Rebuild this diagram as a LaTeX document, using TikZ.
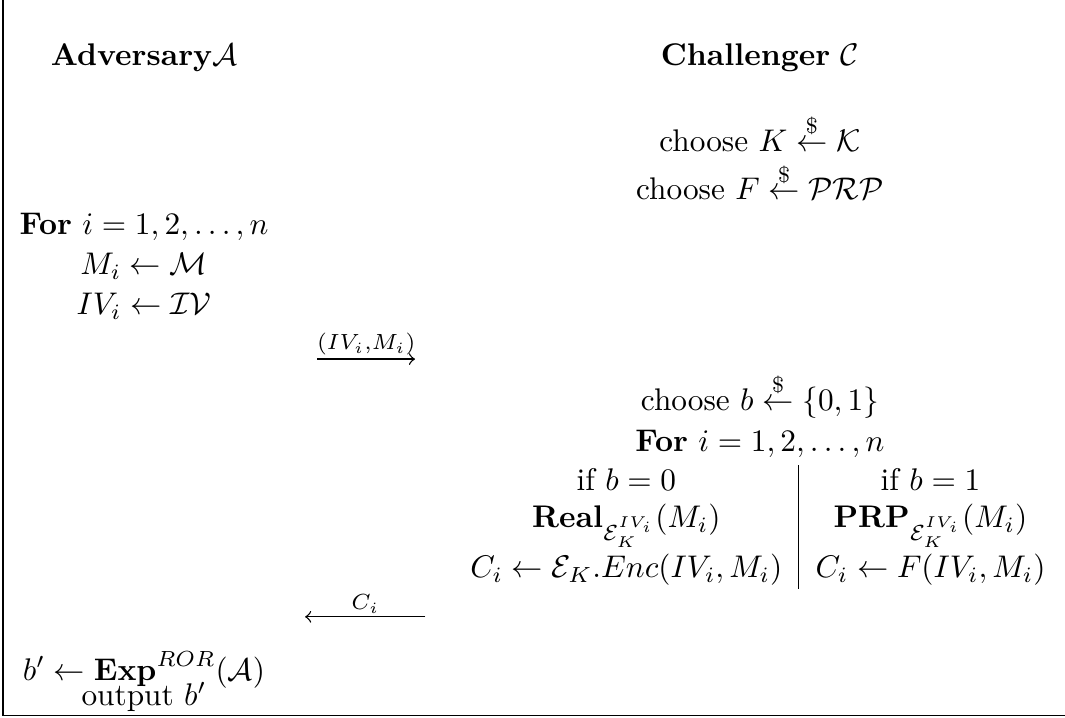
\documentclass[tikz,border=0pt]{standalone}
\usepackage{amsmath,amssymb}
\newcommand{\sampleof}{\overset{\$}{\leftarrow}}
\begin{document}
\begin{tikzpicture}[txt/.style={anchor=base, inner sep=0pt, scale=0.94},
  lbl/.style={above, inner sep=1pt, scale=0.94}]
\useasboundingbox (0,0) rectangle (11.24,-7.57);
\draw (0.03,0) -- (0.03,-7.55) -- (11.24,-7.55);
% adversary side
\node[txt] (adv) at (1.52,-0.69) {\textbf{Adversary}$\mathcal{A}$};
\node[txt] (fora) at (1.52,-2.47) {\textbf{For} $i=1,2,\ldots,n$};
\node[txt] (msgm) at (1.52,-2.9) {$M_i \leftarrow \mathcal{M}$};
\node[txt] (msgiv) at (1.52,-3.32) {$IV_i \leftarrow \mathcal{IV}$};
\node[txt] (guess) at (1.52,-7.18) {$b' \leftarrow \mathbf{Exp}^{ROR}(\mathcal{A})$};
\node[txt] (out) at (1.52,-7.45) {output $b'$};
% challenger side
\node[txt] (chal) at (8.02,-0.69) {\textbf{Challenger} $\mathcal{C}$};
\node[txt] (keyk) at (8.02,-1.60) {choose $K \sampleof \mathcal{K}$};
\node[txt] (keyf) at (8.02,-2.11) {choose $F \sampleof \mathcal{PRP}$};
\node[txt] (bit) at (8.02,-4.33) {choose $b \sampleof \{0,1\}$};
\node[txt] (forc) at (8.02,-4.77) {\textbf{For} $i=1,2,\ldots,n$};
\node[txt] (ifz) at (6.61,-5.18) {if $b=0$};
\node[txt] (real) at (6.61,-5.57) {$\mathbf{Real}_{\mathcal{E}_K^{IV_i}}(M_i)$};
\node[txt] (encz) at (6.61,-6.10) {$C_i \leftarrow \mathcal{E}_K.Enc(IV_i,M_i)$};
\node[txt] (ifo) at (9.82,-5.18) {if $b=1$};
\node[txt] (prp) at (9.82,-5.57) {$\mathbf{PRP}_{\mathcal{E}_K^{IV_i}}(M_i)$};
\node[txt] (enco) at (9.82,-6.10) {$C_i \leftarrow F(IV_i,M_i)$};
\coordinate (sept) at (8.43,-4.91);
\coordinate (sepb) at (8.43,-6.22);
\draw (sept) -- (sepb);
% messages
\coordinate (q1) at (3.35,-3.79);
\coordinate (q2) at (4.38,-3.79);
\draw[->] (q1) -- node[lbl] {$\scriptstyle (IV_i,M_i)$} (q2);
\coordinate (r1) at (4.49,-6.51);
\coordinate (r2) at (3.22,-6.51);
\draw[->] (r1) -- node[lbl] {$\scriptstyle C_i$} (r2);
\end{tikzpicture}
\end{document}
